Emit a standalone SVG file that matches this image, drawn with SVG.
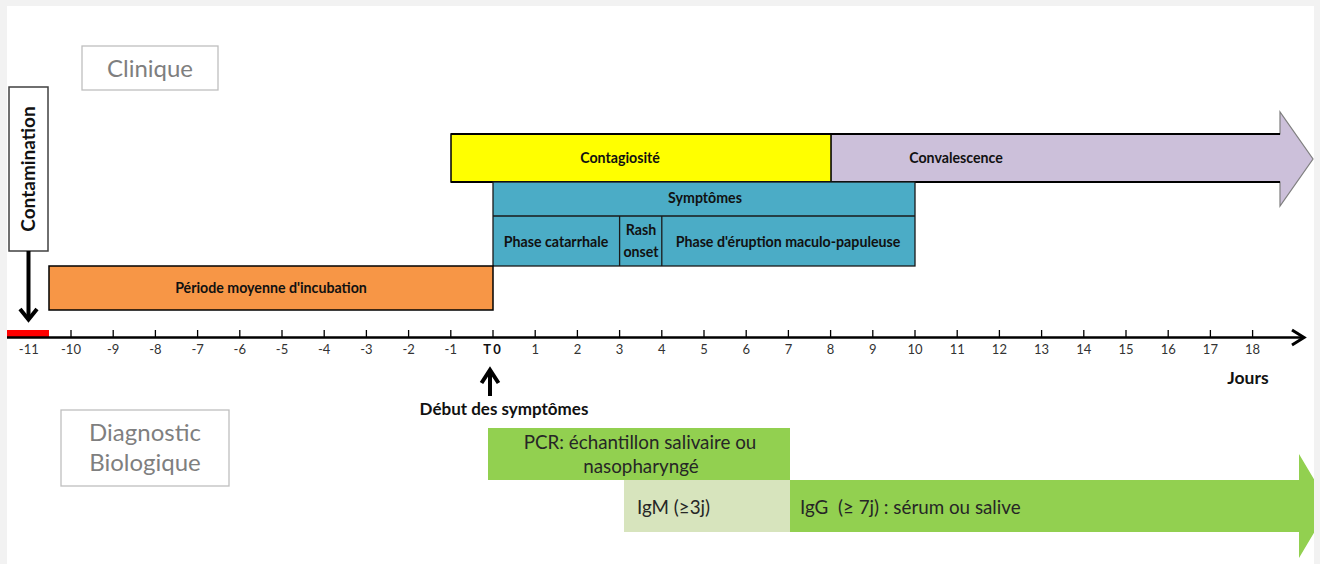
<svg xmlns="http://www.w3.org/2000/svg" width="1320" height="564" viewBox="0 0 1320 564">
<style>
text{font-family:Lato,"Liberation Sans",sans-serif;fill:#111}
.b{font-weight:bold;font-size:14.2px;text-anchor:middle}
.n{font-size:13px;text-anchor:middle;fill:#333}
.g{font-size:24px;fill:#7f7f7f;text-anchor:middle}
.r{font-size:18.8px;fill:#262626;white-space:pre}
.k{fill:none;stroke:#000}
.frame{fill:none;stroke:#bfbfbf;stroke-width:1.3}
</style>
<defs>
<clipPath id="clipW"><rect x="0" y="0" width="1314" height="564"/></clipPath>
</defs>
<rect width="1320" height="564" fill="#f2f2f2"/>
<rect x="7" y="6" width="1307" height="558" fill="#fff"/>

<g id="clinique">
<rect class="frame" x="82" y="46" width="136" height="44" fill="#fff"/>
<text class="g" x="150" y="77">Clinique</text>
</g>

<g id="diagnostic">
<rect class="frame" x="61" y="410" width="168" height="76" fill="#fff"/>
<text class="g" x="145" y="441">Diagnostic</text>
<text class="g" x="145" y="471">Biologique</text>
</g>

<g id="contamination">
<rect x="9" y="87" width="39" height="164" fill="#fff" stroke="#404040" stroke-width="1.5"/>
<text class="b" style="font-size:19px" transform="translate(35,169) rotate(-90)">Contamination</text>
</g>

<g id="convalescence">
<polygon points="831,134 1280,134 1280,112 1313,159 1280,206 1280,182 831,182" fill="#ccc0da" stroke="#7f7f7f" stroke-width="1.2"/>
<text class="b" x="956" y="163">Convalescence</text>
</g>

<g id="contagiosite">
<rect x="451" y="134" width="380" height="48" fill="#ffff00" stroke="#000" stroke-width="1.5"/>
<path class="k" stroke-width="1.8" d="M451 134H1280M451 182H1280"/>
<text class="b" x="620" y="163">Contagiosité</text>
</g>

<g id="symptomes">
<rect x="493" y="182" width="422" height="84" fill="#4bacc6" stroke="#1a1a1a" stroke-width="1.3"/>
<path fill="none" stroke="#1a1a1a" stroke-width="1.3" d="M493 216H915M619.6 216V266M661.8 216V266"/>
<text class="b" x="705" y="203">Symptômes</text>
</g>

<g id="phase-catarrhale">
<text class="b" x="556" y="246.5">Phase catarrhale</text>
</g>

<g id="rash-onset">
<text class="b" x="641" y="235">Rash</text>
<text class="b" x="641" y="256.5">onset</text>
</g>

<g id="phase-eruption">
<text class="b" x="788" y="246.5">Phase d'éruption maculo-papuleuse</text>
</g>

<g id="incubation">
<rect x="49" y="266" width="444" height="44" fill="#f79646" stroke="#000" stroke-width="1.5"/>
<text class="b" x="271" y="293">Période moyenne d'incubation</text>
</g>

<g id="axis">
<rect x="7" y="330" width="42" height="7" fill="#ff0000"/>
<path class="k" stroke-width="1.3" d="M71 330V337M113.2 330V337M155.4 330V337M197.6 330V337M239.8 330V337M282 330V337M324.2 330V337M366.4 330V337M408.6 330V337M450.8 330V337M493 330V337M535.2 330V337M577.4 330V337M619.6 330V337M661.8 330V337M704 330V337M746.2 330V337M788.4 330V337M830.6 330V337M872.8 330V337M915 330V337M957.2 330V337M999.4 330V337M1041.6 330V337M1083.8 330V337M1126 330V337M1168.2 330V337M1210.4 330V337M1252.6 330V337"/>
<line x1="7" y1="337.5" x2="1302" y2="337.5" stroke="#000" stroke-width="2.5"/>
<polyline class="k" stroke-width="3" points="1292,330 1304,337.5 1292,345"/>
<text class="n" x="28.8" y="354">-11</text>
<text class="n" x="71" y="354">-10</text>
<text class="n" x="113.2" y="354">-9</text>
<text class="n" x="155.4" y="354">-8</text>
<text class="n" x="197.6" y="354">-7</text>
<text class="n" x="239.8" y="354">-6</text>
<text class="n" x="282" y="354">-5</text>
<text class="n" x="324.2" y="354">-4</text>
<text class="n" x="366.4" y="354">-3</text>
<text class="n" x="408.6" y="354">-2</text>
<text class="n" x="450.8" y="354">-1</text>
<text class="n" x="493" y="354" style="font-weight:bold;fill:#111;letter-spacing:2px">T0</text>
<text class="n" x="535.2" y="354">1</text>
<text class="n" x="577.4" y="354">2</text>
<text class="n" x="619.6" y="354">3</text>
<text class="n" x="661.8" y="354">4</text>
<text class="n" x="704" y="354">5</text>
<text class="n" x="746.2" y="354">6</text>
<text class="n" x="788.4" y="354">7</text>
<text class="n" x="830.6" y="354">8</text>
<text class="n" x="872.8" y="354">9</text>
<text class="n" x="915" y="354">10</text>
<text class="n" x="957.2" y="354">11</text>
<text class="n" x="999.4" y="354">12</text>
<text class="n" x="1041.6" y="354">13</text>
<text class="n" x="1083.8" y="354">14</text>
<text class="n" x="1126" y="354">15</text>
<text class="n" x="1168.2" y="354">16</text>
<text class="n" x="1210.4" y="354">17</text>
<text class="n" x="1252.6" y="354">18</text>
<text class="b" style="font-size:17.5px" x="1248" y="384">Jours</text>
</g>

<g id="connectors">
<line x1="28.5" y1="251" x2="28.5" y2="318" stroke="#000" stroke-width="4"/>
<polyline class="k" stroke-width="4" points="20,309 28.5,319.5 37,309"/>
<line x1="490" y1="396" x2="490" y2="371" stroke="#000" stroke-width="4"/>
<polyline class="k" stroke-width="4" points="481.5,383 490,370 498.5,383"/>
</g>

<g id="debut-symptomes">
<text class="b" style="font-size:17px" x="504" y="415">Début des symptômes</text>
</g>

<g id="igg">
<polygon clip-path="url(#clipW)" points="790,480 1299,480 1299,454 1330,506 1299,558 1299,532 790,532" fill="#92d050"/>
<text class="r" x="800" y="514">IgG  (≥ 7j) : sérum ou salive</text>
</g>

<g id="igm">
<rect x="624" y="480" width="166" height="52" fill="#d7e4bd"/>
<text class="r" x="637" y="514">IgM (≥3j)</text>
</g>

<g id="pcr">
<rect x="488" y="428" width="302" height="52" fill="#92d050"/>
<text class="r" x="640" y="449" text-anchor="middle">PCR: échantillon salivaire ou</text>
<text class="r" x="641" y="473" text-anchor="middle">nasopharyngé</text>
</g>
</svg>
